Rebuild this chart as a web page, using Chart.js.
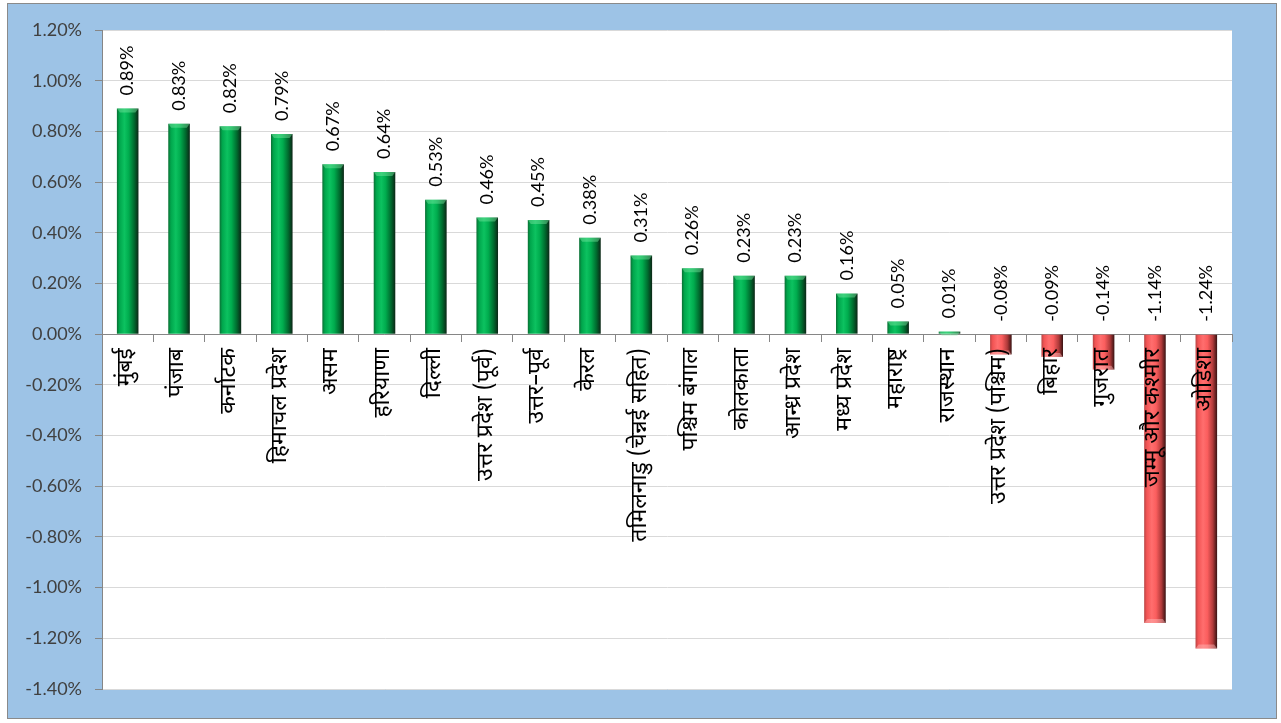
<!DOCTYPE html>
<html>
<head>
<meta charset="utf-8">
<script src="https://cdn.jsdelivr.net/npm/chart.js@4.4.1/dist/chart.umd.min.js"></script>
<style>
  html, body { margin: 0; padding: 0; background: #fff; }
  #wrap { position: relative; width: 1281px; height: 723px; }
</style>
</head>
<body>
<div id="wrap"><canvas id="chart" width="1281" height="723"></canvas></div>
<script>
// values (percent)
const STATES = [
  "मुंबई", "पंजाब", "कर्नाटक", "हिमाचल प्रदेश", "असम", "हरियाणा", "दिल्ली",
  "उत्तर प्रदेश (पूर्व)", "उत्तर–पूर्व", "केरल", "तमिलनाडु (चेन्नई सहित)",
  "पश्चिम बंगाल", "कोलकाता", "आन्ध्र प्रदेश", "मध्य प्रदेश", "महाराष्ट्र",
  "राजस्थान", "उत्तर प्रदेश (पश्चिम)", "बिहार", "गुजरात", "जम्मू और कश्मीर", "ओडिशा"
];
const CHANGE = [
  0.89, 0.83, 0.82, 0.79, 0.67, 0.64, 0.53, 0.46, 0.45, 0.38, 0.31,
  0.26, 0.23, 0.23, 0.16, 0.05, 0.01, -0.08, -0.09, -0.14, -1.14, -1.24
];
const Y_MIN = -1.4, Y_MAX = 1.2, Y_STEP = 0.2;

const BAR_PCT = 0.42;
const NUM_FONT = "Lato, 'Liberation Sans', sans-serif";
const HI_FONT = "'Noto Sans Devanagari', 'Noto Sans', sans-serif";

const GREEN_STOPS = [[0, "#0b6e34"], [0.12, "#00a64c"], [0.35, "#0cc260"], [0.55, "#00ac4e"], [0.8, "#006a2e"], [1, "#0c2616"]];
const RED_STOPS = [[0, "#b84444"], [0.12, "#f25454"], [0.35, "#ff6e6e"], [0.55, "#fb5e5e"], [0.8, "#b03a3a"], [1, "#381212"]];

function barFill(c) {
  const chart = c.chart, x = chart.scales.x;
  const v = CHANGE[c.dataIndex];
  if (!chart.chartArea || !x) return v >= 0 ? "#00b050" : "#ff6666";
  const cx = x.getPixelForValue(c.dataIndex);
  const w = (x.width / STATES.length) * BAR_PCT;
  const g = chart.ctx.createLinearGradient(cx - w / 2, 0, cx + w / 2, 0);
  (v >= 0 ? GREEN_STOPS : RED_STOPS).forEach((s) => g.addColorStop(s[0], s[1]));
  return g;
}

// blue frame + white plot area
const frame = {
  id: "frame",
  beforeDraw(chart) {
    const { ctx, chartArea: a } = chart;
    ctx.save();
    ctx.fillStyle = "#fff";
    ctx.fillRect(0, 0, chart.width, chart.height);
    ctx.fillStyle = "#9dc3e6";
    ctx.fillRect(7.5, 3.5, 1269, 715);
    ctx.strokeStyle = "#8a8a8a";
    ctx.lineWidth = 1;
    ctx.strokeRect(7.5, 3.5, 1269, 715);
    ctx.fillStyle = "#fff";
    ctx.fillRect(a.left, a.top, a.right - a.left, a.bottom - a.top);
    ctx.restore();
  },
};

// bevelled bar ends + rotated value labels
const barExtras = {
  id: "barExtras",
  afterDatasetsDraw(chart) {
    const ctx = chart.ctx;
    const meta = chart.getDatasetMeta(0);
    ctx.save();
    meta.data.forEach((bar, i) => {
      const l = bar.x - bar.width / 2, r = bar.x + bar.width / 2;
      const pos = CHANGE[i] >= 0;
      const end = bar.y, d = pos ? 4 : -4;
      if (Math.abs(bar.y - bar.base) > 2) {
        ctx.beginPath();
        ctx.moveTo(l, end);
        ctx.lineTo(r, end);
        ctx.lineTo(r - 3, end + d);
        ctx.lineTo(l + 3, end + d);
        ctx.closePath();
        ctx.fillStyle = pos ? "rgba(120,230,160,0.45)" : "rgba(255,190,190,0.45)";
        ctx.fill();
      }
    });
    ctx.font = "18px " + NUM_FONT;
    ctx.fillStyle = "#000";
    ctx.textAlign = "left";
    ctx.textBaseline = "middle";
    meta.data.forEach((bar, i) => {
      const top = Math.min(bar.y, bar.base);
      ctx.save();
      ctx.translate(bar.x, top - 13);
      ctx.rotate(-Math.PI / 2);
      ctx.fillText(CHANGE[i].toFixed(2) + "%", 0, 0);
      ctx.restore();
    });
    ctx.restore();
  },
};

new Chart(document.getElementById("chart"), {
  type: "bar",
  data: {
    labels: STATES,
    datasets: [{
      data: CHANGE,
      backgroundColor: barFill,
      borderWidth: 0,
      categoryPercentage: 1,
      barPercentage: BAR_PCT,
    }],
  },
  options: {
    responsive: false,
    animation: false,
    layout: { padding: { left: 0, top: 30, right: 49, bottom: 34 } },
    plugins: { legend: { display: false }, tooltip: { enabled: false } },
    scales: {
      x: {
        position: { y: 0 },
        grid: { drawOnChartArea: false, drawTicks: true, tickLength: 7, color: "#868686", offset: true },
        border: { color: "#868686", width: 1 },
        ticks: {
          autoSkip: false, minRotation: 90, maxRotation: 90, padding: 7, z: 1,
          color: "#000", font: { family: HI_FONT, size: 23 },
        },
      },
      y: {
        min: Y_MIN, max: Y_MAX,
        afterFit(scale) { scale.width = 102; },
        grid: { color: "#d9d9d9", tickColor: "#868686", tickLength: 7 },
        border: { color: "#868686" },
        ticks: {
          stepSize: Y_STEP, padding: 13, color: "#404040",
          font: { family: NUM_FONT, size: 18 },
          callback: (v) => v.toFixed(2) + "%",
        },
      },
    },
  },
  plugins: [frame, barExtras],
});
</script>
</body>
</html>
